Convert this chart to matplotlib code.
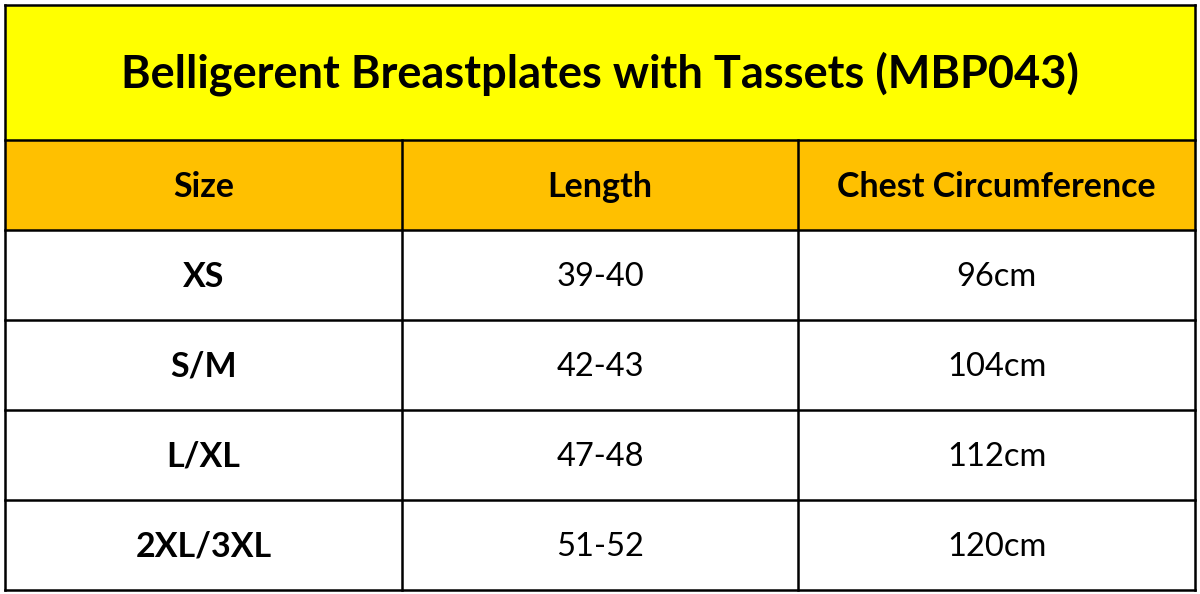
import matplotlib.pyplot as plt
from matplotlib.patches import Rectangle

title = "Belligerent Breastplates with Tassets (MBP043)"
headers = ["Size", "Length", "Chest Circumference"]
sizes = ["XS", "S/M", "L/XL", "2XL/3XL"]
lengths = ["39-40", "42-43", "47-48", "51-52"]
chest = ["96cm", "104cm", "112cm", "120cm"]

plt.rcParams['font.family'] = ['Lato', 'DejaVu Sans']
fig = plt.figure(figsize=(12, 5.94), dpi=100)
ax = fig.add_axes([0, 0, 1, 1])
ax.set_xlim(0, 1200)
ax.set_ylim(594, 0)
ax.axis('off')

cols = [5, 402, 798, 1195]
rows = [5, 140, 230, 320, 410, 500, 590]

ax.add_patch(Rectangle((5, 5), 1190, 135, facecolor='#FFFF00', edgecolor='none'))
ax.add_patch(Rectangle((5, 140), 1190, 90, facecolor='#FFC000', edgecolor='none'))

lw = 1.8
for y in rows:
    ax.plot([5, 1195], [y, y], color='black', lw=lw)
for i, x in enumerate(cols):
    top = 5 if i in (0, 3) else 140
    ax.plot([x, x], [top, 590], color='black', lw=lw)

ax.text(600, 74, title, ha='center', va='center', fontsize=32.5, fontweight='bold')
for j, h in enumerate(headers):
    ax.text((cols[j] + cols[j + 1]) / 2, 187, h, ha='center', va='center',
            fontsize=24.5, fontweight='bold')

for i in range(len(sizes)):
    yc = (rows[i + 2] + rows[i + 3]) / 2 + 2
    ax.text((cols[0] + cols[1]) / 2, yc, sizes[i], ha='center', va='center',
            fontsize=24.5, fontweight='bold')
    ax.text((cols[1] + cols[2]) / 2, yc, lengths[i], ha='center', va='center', fontsize=23.5)
    ax.text((cols[2] + cols[3]) / 2, yc, chest[i], ha='center', va='center', fontsize=23.5)

fig.savefig('out.png', dpi=100)
